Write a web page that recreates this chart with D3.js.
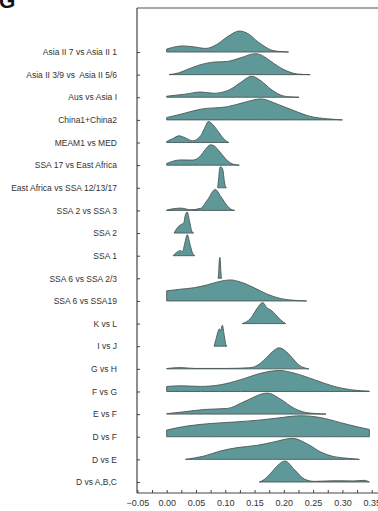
<!DOCTYPE html>
<html>
<head>
<meta charset="utf-8">
<script src="https://cdn.jsdelivr.net/npm/d3@7/dist/d3.min.js"></script>
<style>
  html, body { margin: 0; padding: 0; background: #fff; }
  svg { display: block; }
  text { font-family: "Liberation Sans", Arial, sans-serif; }
</style>
</head>
<body>
<svg id="chart" width="378" height="511"></svg>
<script>
// Row labels, top to bottom
const categories = [
  "Asia II 7 vs Asia II 1",
  "Asia II 3/9 vs  Asia II 5/6",
  "Aus vs Asia I",
  "China1+China2",
  "MEAM1 vs MED",
  "SSA 17 vs East Africa",
  "East Africa vs SSA 12/13/17",
  "SSA 2 vs SSA 3",
  "SSA 2",
  "SSA 1",
  "SSA 6 vs SSA 2/3",
  "SSA 6 vs SSA19",
  "K vs L",
  "I vs J",
  "G vs H",
  "F vs G",
  "E vs F",
  "D vs F",
  "D vs E",
  "D vs A,B,C"
];

// Density profiles: [value, relative density] for each row
const asia7vs1 = [[0.000,0.14],[0.010,0.22],[0.027,0.29],[0.045,0.25],[0.067,0.17],[0.085,0.35],[0.105,0.75],[0.124,1.0],[0.140,0.85],[0.155,0.50],[0.168,0.25],[0.180,0.08],[0.195,0.02],[0.208,0.0]];
const asia39vs56 = [[0.004,0.0],[0.020,0.08],[0.035,0.24],[0.055,0.45],[0.075,0.58],[0.090,0.61],[0.104,0.63],[0.126,0.80],[0.152,1.0],[0.165,0.88],[0.178,0.63],[0.200,0.24],[0.223,0.03],[0.245,0.0]];
const ausVsAsia1 = [[0.000,0.05],[0.030,0.14],[0.058,0.25],[0.081,0.19],[0.100,0.28],[0.109,0.38],[0.126,0.70],[0.145,1.0],[0.161,0.78],[0.178,0.38],[0.195,0.10],[0.210,0.02],[0.226,0.0]];
const china12 = [[0.000,0.11],[0.024,0.27],[0.058,0.51],[0.104,0.63],[0.132,0.83],[0.161,1.0],[0.189,0.75],[0.218,0.43],[0.246,0.16],[0.275,0.05],[0.300,0.0]];
const meam1VsMed = [[0.000,0.05],[0.010,0.18],[0.021,0.32],[0.032,0.22],[0.044,0.08],[0.058,0.32],[0.065,0.70],[0.071,1.0],[0.079,0.85],[0.087,0.56],[0.098,0.16],[0.106,0.0]];
const ssa17VsEa = [[0.000,0.08],[0.024,0.25],[0.044,0.24],[0.058,0.45],[0.066,0.75],[0.075,0.97],[0.082,0.90],[0.089,0.69],[0.104,0.21],[0.114,0.04],[0.124,0.0]];
const eaVsSsa121317 = [[0.087,0.0],[0.089,0.50],[0.0905,0.95],[0.092,1.0],[0.094,0.97],[0.096,0.85],[0.098,0.40],[0.100,0.10],[0.102,0.0]];
const ssa2VsSsa3 = [[0.000,0.02],[0.024,0.11],[0.041,0.03],[0.058,0.10],[0.070,0.52],[0.083,1.0],[0.092,0.68],[0.104,0.20],[0.110,0.05],[0.116,0.0]];
const ssa2 = [[0.0125,0.0],[0.018,0.24],[0.024,0.40],[0.029,0.48],[0.032,0.87],[0.035,1.0],[0.039,0.56],[0.043,0.08],[0.046,0.0]];
const ssa1 = [[0.011,0.0],[0.017,0.16],[0.023,0.24],[0.027,0.20],[0.031,0.60],[0.035,1.0],[0.040,0.52],[0.044,0.13],[0.048,0.0]];
const ssa6VsSsa23 = [[0.0878,0.0],[0.0888,0.30],[0.0898,0.85],[0.0906,1.0],[0.0915,0.85],[0.0925,0.30],[0.0935,0.0]];
const ssa6VsSsa19 = [[0.000,0.48],[0.024,0.56],[0.047,0.63],[0.070,0.77],[0.089,0.92],[0.109,1.0],[0.126,0.90],[0.149,0.63],[0.172,0.32],[0.195,0.11],[0.218,0.03],[0.239,0.0]];
const kVsL = [[0.129,0.0],[0.144,0.27],[0.155,0.75],[0.164,1.0],[0.171,0.75],[0.178,0.64],[0.186,0.43],[0.195,0.16],[0.203,0.0]];
const iVsJ = [[0.081,0.0],[0.084,0.32],[0.088,0.72],[0.090,0.83],[0.092,0.72],[0.095,1.0],[0.098,0.56],[0.101,0.08],[0.103,0.0]];
const gVsH = [[0.000,0.015],[0.024,0.06],[0.047,0.02],[0.104,0.02],[0.140,0.05],[0.150,0.10],[0.160,0.27],[0.170,0.52],[0.180,0.80],[0.192,1.0],[0.205,0.80],[0.215,0.50],[0.225,0.20],[0.235,0.05],[0.243,0.0]];
const fVsG = [[0.000,0.24],[0.024,0.27],[0.058,0.24],[0.092,0.32],[0.126,0.56],[0.161,0.87],[0.192,1.0],[0.218,0.87],[0.252,0.56],[0.286,0.24],[0.315,0.08],[0.346,0.015]];
const eVsF = [[0.000,0.02],[0.030,0.11],[0.064,0.22],[0.104,0.27],[0.132,0.59],[0.172,1.0],[0.195,0.70],[0.218,0.27],[0.241,0.06],[0.272,0.0]];
const dVsF = [[0.000,0.32],[0.035,0.51],[0.075,0.63],[0.115,0.70],[0.161,0.80],[0.189,0.89],[0.229,1.0],[0.263,0.91],[0.297,0.67],[0.332,0.43],[0.346,0.35]];
const dVsE = [[0.032,0.0],[0.064,0.16],[0.092,0.40],[0.121,0.56],[0.155,0.67],[0.183,0.83],[0.215,1.0],[0.241,0.72],[0.263,0.35],[0.286,0.13],[0.309,0.05],[0.329,0.0]];
const dVsABC = [[0.158,0.0],[0.166,0.11],[0.178,0.43],[0.190,0.80],[0.202,1.0],[0.218,0.59],[0.235,0.14],[0.252,0.03],[0.286,0.06],[0.320,0.05],[0.337,0.08],[0.346,0.0]];

const rows = [asia7vs1, asia39vs56, ausVsAsia1, china12, meam1VsMed, ssa17VsEa,
  eaVsSsa121317, ssa2VsSsa3, ssa2, ssa1, ssa6VsSsa23, ssa6VsSsa19, kVsL, iVsJ,
  gVsH, fVsG, eVsF, dVsF, dVsE, dVsABC];

// Axis ticks: every 0.025, labelled every 0.05
const tickValues = d3.range(-0.05, 0.3501, 0.025).map(v => +v.toFixed(3));
const labelledTicks = [-0.05, 0.00, 0.05, 0.10, 0.15, 0.20, 0.25, 0.30, 0.35];

const svg = d3.select("#chart");
const plotLeft = 137, plotTop = 8, plotBottom = 493;

const x = d3.scaleLinear().domain([-0.05, 0.35]).range([137.4, 371.7]);
const y = d3.scalePoint().domain(categories).range([52, 482]);
const h = d3.scaleLinear().domain([0, 1]).range([0, 21]);

// Panel letter
svg.append("text")
  .attr("x", -1).attr("y", 8)
  .attr("font-size", 21).attr("font-weight", "bold")
  .attr("fill", "#111")
  .text("G");

// Top frame line
svg.append("line")
  .attr("x1", plotLeft).attr("x2", 378)
  .attr("y1", plotTop).attr("y2", plotTop)
  .attr("stroke", "#8a8a8a").attr("stroke-width", 1.5);

// Ridges, drawn top to bottom so lower rows overlap upper ones
const ridges = svg.append("g");
categories.forEach((cat, i) => {
  const base = y(cat);
  const area = d3.area()
    .x(d => x(d[0]))
    .y0(base)
    .y1(d => base - h(d[1]))
    .curve(d3.curveMonotoneX);
  ridges.append("path")
    .datum(rows[i])
    .attr("d", area)
    .attr("fill", "#5e9898")
    .attr("stroke", "#4c5656")
    .attr("stroke-width", 0.9)
    .attr("stroke-linejoin", "round");
});

// Y axis with inward ticks
const yAxis = svg.append("g")
  .attr("transform", `translate(${plotLeft},0)`)
  .call(d3.axisLeft(y).tickSizeInner(-3).tickSizeOuter(0).tickPadding(20));
yAxis.select(".domain").remove();
yAxis.selectAll(".tick line").attr("stroke", "#444");
yAxis.selectAll(".tick text")
  .attr("font-size", 8.5)
  .attr("fill", "#333")
  .style("white-space", "pre")
  .attr("font-family", "'Liberation Sans', Arial, sans-serif");

svg.append("line")
  .attr("x1", plotLeft).attr("x2", plotLeft)
  .attr("y1", plotTop).attr("y2", plotBottom)
  .attr("stroke", "#333").attr("stroke-width", 1.1);

// X axis with inward ticks
const xAxis = svg.append("g")
  .attr("transform", `translate(0,${plotBottom})`)
  .call(d3.axisBottom(x)
    .tickValues(tickValues)
    .tickSizeInner(-3).tickSizeOuter(0).tickPadding(7)
    .tickFormat(v => labelledTicks.some(t => Math.abs(t - v) < 1e-6) ? d3.format(".2f")(v) : ""));
xAxis.select(".domain").attr("stroke", "#444").attr("d", `M${plotLeft},0H378`);
xAxis.selectAll(".tick line").attr("stroke", "#444");
xAxis.selectAll(".tick text")
  .attr("font-size", 9)
  .attr("fill", "#333")
  .attr("font-family", "'Liberation Sans', Arial, sans-serif");
</script>
</body>
</html>
